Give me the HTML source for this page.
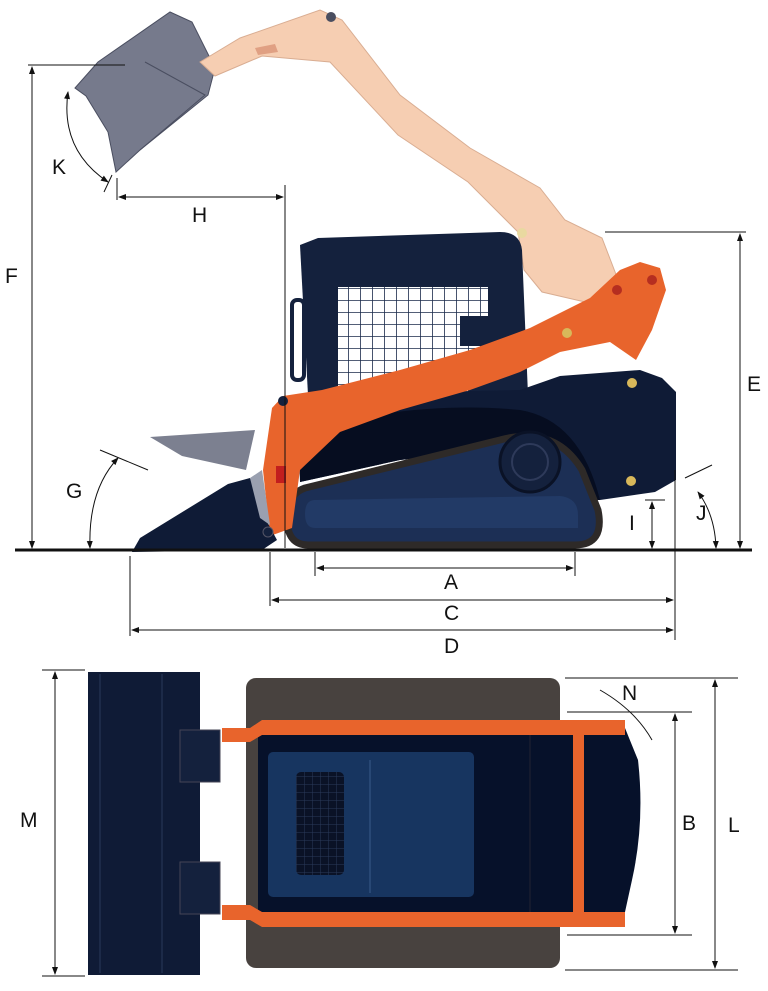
<!DOCTYPE html>
<html><head><meta charset="utf-8"><style>
html,body{margin:0;padding:0;background:#fff;}
svg{display:block;}
text{font-family:"Liberation Sans",sans-serif;font-size:21px;fill:#111;}
</style></head><body>
<svg width="768" height="991" viewBox="0 0 768 991" xmlns="http://www.w3.org/2000/svg">
<defs>
<marker id="ar" markerWidth="8" markerHeight="8" refX="7" refY="4" orient="auto-start-reverse" markerUnits="userSpaceOnUse"><path d="M0,1 L8,4 L0,7 z" fill="#111"/></marker>
<pattern id="grid" width="12" height="12" patternUnits="userSpaceOnUse"><rect width="12" height="12" fill="#fff"/><path d="M0,0 H12 M0,0 V12" stroke="#1a2a4a" stroke-width="1.6"/></pattern>
<pattern id="grid2" width="8" height="8" patternUnits="userSpaceOnUse"><rect width="8" height="8" fill="#0a1226"/><path d="M0,0 H8 M0,0 V8" stroke="#2a3a5a" stroke-width="1"/></pattern>
</defs>

<!-- raised bucket -->
<polygon points="75,88 98,62 170,12 192,22 215,68 208,95 140,150 116,172 108,132 86,96" fill="#767a8c" stroke="#4a4e60" stroke-width="1"/>
<polyline points="145,62 205,95 140,150" fill="none" stroke="#4a4e60"/>
<!-- beige arm -->
<path d="M200,62 L240,38 L320,10 L342,20 L400,95 L470,148 L540,188 L565,220 L602,238 L622,290 L585,302 L542,292 L524,270 L518,232 L468,182 L398,135 L330,62 L262,56 L215,76 Z" fill="#f6ceb2" stroke="#d9ad92" stroke-width="1"/>
<circle cx="331" cy="17" r="5" fill="#4a4e60"/>
<path d="M255,48 L275,44 L278,52 L258,55 Z" fill="#e0a083"/>
<circle cx="522" cy="233" r="5" fill="#e9d9a0"/>

<!-- cab -->
<path d="M300,245 L318,238 L500,232 Q520,232 522,250 L528,395 L308,395 Z" fill="#14213d"/>
<rect x="292" y="300" width="12" height="80" rx="5" fill="none" stroke="#14213d" stroke-width="4"/>
<rect x="338" y="287" width="150" height="90" fill="url(#grid)"/>
<rect x="338" y="350" width="130" height="45" fill="url(#grid)"/>
<rect x="460" y="316" width="30" height="30" fill="#14213d"/>
<!-- body -->
<path d="M298,425 L340,402 L420,392 L520,390 L560,376 L640,370 L662,378 L676,392 L676,480 L655,492 L600,500 L560,500 L530,470 L470,452 L400,460 L300,482 Z" fill="#0f1b36"/>
<path d="M300,430 Q420,400 520,410 Q580,420 600,500 L560,500 L530,470 L470,452 L400,460 L300,482 Z" fill="#060d20"/>
<circle cx="632" cy="383" r="5" fill="#d8b85a"/>
<circle cx="631" cy="481" r="5" fill="#d8b85a"/>
<!-- tracks -->
<path d="M305,488 L500,440 Q555,425 582,470 L598,510 Q605,545 575,545 L308,545 Q287,545 287,518 Q287,494 305,488 Z" fill="#1c2f55" stroke="#2e2a28" stroke-width="7"/>
<path d="M315,500 L560,496 Q578,498 578,515 L578,528 L315,528 Q305,528 305,514 Q305,500 315,500Z" fill="#223a66"/>
<circle cx="530" cy="462" r="30" fill="#14213d" stroke="#0a1226" stroke-width="3"/>
<circle cx="530" cy="462" r="18" fill="none" stroke="#2e3a5a" stroke-width="2"/>

<!-- orange arm -->
<path d="M272,408 L263,470 L270,536 L292,528 L300,470 L340,432 L400,410 L470,390 L520,372 L560,352 L610,342 L636,360 L652,330 L666,290 L660,268 L640,262 L620,270 L590,298 L530,328 L470,350 L400,370 L322,390 L283,396 Z" fill="#e8642c"/>
<circle cx="283" cy="401" r="5" fill="#14213d"/>
<circle cx="617" cy="290" r="5" fill="#b52e20"/>
<circle cx="652" cy="280" r="5" fill="#b52e20"/>
<circle cx="567" cy="333" r="5" fill="#d8b85a"/>
<rect x="276" y="466" width="10" height="17" fill="#c21e1e"/>
<!-- lowered bucket -->
<polygon points="150,437 255,430 246,470 182,456" fill="#7c8090"/>
<polygon points="132,552 140,538 228,484 250,478 265,518 277,540 262,550" fill="#0f1b36"/>
<polygon points="250,478 262,470 270,525 260,518" fill="#9aa0b0"/>
<circle cx="268" cy="532" r="5" fill="#14213d" stroke="#556" />

<!-- ground -->
<line x1="15" y1="550" x2="752" y2="550" stroke="#111" stroke-width="3"/>

<!-- dimension lines -->
<g stroke="#111" stroke-width="1" fill="none">
<line x1="28" y1="65" x2="125" y2="65"/>
<line x1="32" y1="67" x2="32" y2="548" marker-start="url(#ar)" marker-end="url(#ar)"/>
<line x1="117" y1="178" x2="117" y2="200"/>
<line x1="285" y1="185" x2="285" y2="548"/>
<line x1="119" y1="197" x2="283" y2="197" marker-start="url(#ar)" marker-end="url(#ar)"/>
<line x1="605" y1="232" x2="746" y2="232"/>
<line x1="740" y1="234" x2="740" y2="548" marker-start="url(#ar)" marker-end="url(#ar)"/>
<line x1="645" y1="500" x2="665" y2="500"/>
<line x1="652" y1="502" x2="652" y2="548" marker-start="url(#ar)" marker-end="url(#ar)"/>
<line x1="675" y1="470" x2="675" y2="640"/>
<line x1="270" y1="552" x2="270" y2="606"/>
<line x1="315" y1="552" x2="315" y2="576"/>
<line x1="575" y1="552" x2="575" y2="576"/>
<line x1="130" y1="556" x2="130" y2="636"/>
<line x1="317" y1="568" x2="573" y2="568" marker-start="url(#ar)" marker-end="url(#ar)"/>
<line x1="272" y1="600" x2="673" y2="600" marker-start="url(#ar)" marker-end="url(#ar)"/>
<line x1="132" y1="630" x2="673" y2="630" marker-start="url(#ar)" marker-end="url(#ar)"/>
<path d="M90,548 Q88,490 118,458" marker-start="url(#ar)" marker-end="url(#ar)"/>
<line x1="100" y1="450" x2="148" y2="470"/>
<path d="M716,548 Q715,515 698,492" marker-start="url(#ar)" marker-end="url(#ar)"/>
<line x1="685" y1="478" x2="712" y2="465"/>
<path d="M68,92 Q60,150 108,182" marker-start="url(#ar)" marker-end="url(#ar)"/>
<line x1="104" y1="192" x2="112" y2="175"/>
</g>
<text x="5" y="283">F</text>
<text x="192" y="222">H</text>
<text x="52" y="174">K</text>
<text x="66" y="498">G</text>
<text x="747" y="391">E</text>
<text x="696" y="520">J</text>
<text x="629" y="530">I</text>
<text x="444" y="589">A</text>
<text x="444" y="620">C</text>
<text x="444" y="653">D</text>

<!-- bottom view -->
<rect x="246" y="678" width="314" height="290" rx="10" fill="#48423f"/>
<path d="M258,728 L625,728 L638,760 Q645,822 632,880 L625,912 L258,912 Z" fill="#06112a"/>
<rect x="88" y="672" width="112" height="303" fill="#0f1b36"/>
<line x1="100" y1="674" x2="100" y2="973" stroke="#2a3a5a"/>
<line x1="162" y1="674" x2="162" y2="973" stroke="#2a3a5a"/>
<rect x="180" y="730" width="40" height="52" fill="#14213d" stroke="#445" />
<rect x="180" y="862" width="40" height="52" fill="#14213d" stroke="#445"/>
<path d="M222,728 L250,728 L262,720 L625,720 L625,735 L262,735 L250,742 L222,742 Z" fill="#e8642c"/>
<path d="M222,905 L250,905 L262,912 L625,912 L625,927 L262,927 L250,920 L222,920 Z" fill="#e8642c"/>
<rect x="573" y="735" width="11" height="177" fill="#e8642c"/>
<line x1="530" y1="735" x2="530" y2="912" stroke="#223" />
<rect x="268" y="752" width="206" height="145" rx="5" fill="#173560"/>
<line x1="370" y1="760" x2="370" y2="893" stroke="#3a5a8a"/>
<rect x="296" y="772" width="48" height="103" rx="5" fill="url(#grid2)"/>
<g stroke="#111" stroke-width="1" fill="none">
<line x1="42" y1="670" x2="85" y2="670"/>
<line x1="42" y1="976" x2="85" y2="976"/>
<line x1="55" y1="672" x2="55" y2="974" marker-start="url(#ar)" marker-end="url(#ar)"/>
<line x1="565" y1="678" x2="738" y2="678"/>
<line x1="565" y1="970" x2="738" y2="970"/>
<line x1="715" y1="680" x2="715" y2="968" marker-start="url(#ar)" marker-end="url(#ar)"/>
<line x1="567" y1="712" x2="692" y2="712"/>
<line x1="567" y1="935" x2="692" y2="935"/>
<line x1="675" y1="714" x2="675" y2="933" marker-start="url(#ar)" marker-end="url(#ar)"/>
<path d="M600,690 Q635,710 652,740"/>
</g>
<text x="20" y="827">M</text>
<text x="682" y="830">B</text>
<text x="728" y="832">L</text>
<text x="622" y="700">N</text>
</svg>
</body></html>
